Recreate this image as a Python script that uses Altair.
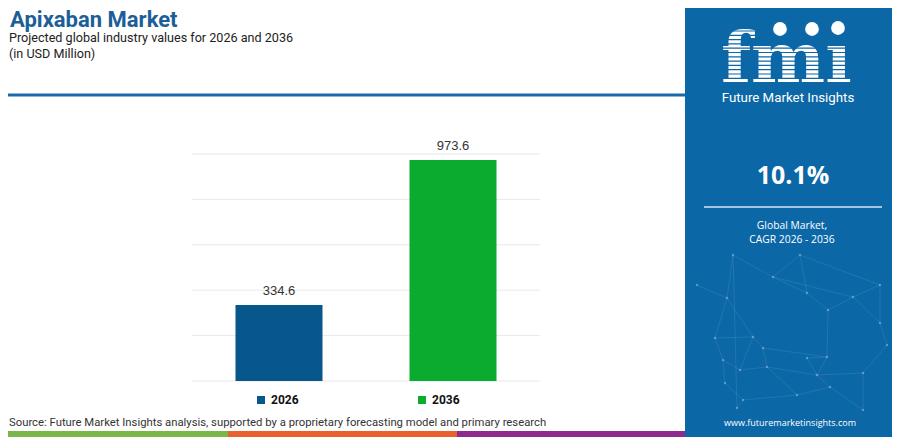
import altair as alt
import pandas as pd

# ---- data ----
years = ["2026", "2036"]
values = [334.6, 973.6]
grid_values = [0, 200, 400, 600, 800, 1000]
bar_colors = ["#07568c", "#0aab2e"]

title_text = "Apixaban Market"
subtitle_text = "Projected global industry values for 2026 and 2036"
unit_text = "(in USD Million)"
source_text = "Source: Future Market Insights analysis, supported by a proprietary forecasting model and primary research"
brand_text = "Future Market Insights"
cagr_value = "10.1%"
cagr_label_1 = "Global Market,"
cagr_label_2 = "CAGR 2026 - 2036"
url_text = "www.futuremarketinsights.com"

# ---- layout helpers (page coordinates -> chart coordinates) ----
O = 8
def P(v):
    return v - O

W, H = 884, 429
PANEL = "#0c67a7"
one = alt.Data(values=[{"a": 1}])

def txt(t, x, y, **kw):
    return alt.Chart(one).mark_text(text=t, baseline="alphabetic", **kw).encode(
        x=alt.value(P(x)), y=alt.value(P(y)))

def rect(x, x2, y, y2, color, **kw):
    return alt.Chart(one).mark_rect(color=color, **kw).encode(
        x=alt.value(P(x)), x2=alt.value(P(x2)), y=alt.value(P(y)), y2=alt.value(P(y2)))

def seg(x, y, x2, y2, color, width=1, opacity=1.0):
    return alt.Chart(one).mark_rule(color=color, strokeWidth=width, opacity=opacity).encode(
        x=alt.value(P(x)), y=alt.value(P(y)), x2=alt.value(P(x2)), y2=alt.value(P(y2)))

# ---- chart scales ----
bars_df = pd.DataFrame({"year": years, "value": values})
grid_df = pd.DataFrame({"v": grid_values})

xs = alt.Scale(domain=years, range=[P(192), P(540)], paddingInner=0.5, paddingOuter=0.25)
ys = alt.Scale(domain=[0, 1000], range=[P(381), P(154)])

grid = alt.Chart(grid_df).mark_rule(color="#e8e8e8", strokeWidth=1).encode(
    y=alt.Y("v:Q", scale=ys, axis=None),
    x=alt.value(P(192)), x2=alt.value(P(540)))

bars = alt.Chart(bars_df).mark_bar().encode(
    x=alt.X("year:N", scale=xs, axis=None),
    y=alt.Y("value:Q", scale=ys, axis=None),
    color=alt.Color("year:N", scale=alt.Scale(domain=years, range=bar_colors),
                    legend=alt.Legend(title=None, orient="none", legendX=P(255), legendY=P(394),
                                      direction="horizontal", symbolType="square", symbolSize=64,
                                      symbolStrokeWidth=0, labelFontSize=12, labelFontWeight="bold",
                                      labelColor="#111111", labelFont="Roboto", columnPadding=117,
                                      padding=0, offset=0, labelOffset=4)))

labels = alt.Chart(bars_df).mark_text(baseline="bottom", dy=-7, fontSize=13,
                                      font="Liberation Sans", color="#333333").encode(
    x=alt.X("year:N", scale=xs, axis=None),
    y=alt.Y("value:Q", scale=ys, axis=None),
    text=alt.Text("value:Q", format=".1f"))

layers = []
# header
layers.append(txt(title_text, 10, 27, align="left", font="Roboto", fontSize=22,
                  fontWeight="bold", color="#1b5e98"))
layers.append(txt(subtitle_text, 9, 42, align="left", font="Roboto", fontSize=12.6, color="#222222"))
layers.append(txt(unit_text, 9, 58, align="left", font="Roboto", fontSize=12.6, color="#222222"))
layers.append(rect(8, 685, 93.5, 96.5, "#1a6aab"))

# bottom stripes
layers.append(rect(8, 228, 431, 437, "#7ab648"))
layers.append(rect(228, 457, 431, 437, "#e8612c"))
layers.append(rect(457, 685, 431, 437, "#8e2a8f"))
layers.append(txt(source_text, 9, 426, align="left", font="Roboto", fontSize=11.3, color="#333333"))

# right panel
layers.append(rect(685, 892, 8, 437, PANEL))

# network decoration
nodes = {
    "a": (733, 255), "b": (800, 255), "c": (773, 277), "d": (880, 285), "e": (727, 298),
    "f": (807, 293), "g": (853, 297), "h": (828, 310), "i": (715, 338), "j": (753, 337),
    "k": (763, 348), "l": (827, 357), "m": (723, 360), "n": (740, 370), "o": (807, 358),
    "p": (767, 367), "q": (817, 375), "r": (863, 373), "s": (887, 345), "t": (725, 383),
    "u": (743, 400), "v": (797, 395), "w": (830, 387), "x": (863, 410), "y": (737, 408),
    "z": (880, 323), "A": (697, 285),
}
edges = ["ac", "ae", "bc", "bf", "bd", "cf", "cg", "dg", "dz", "ei", "ej", "eA", "fh", "gh",
         "hl", "ij", "im", "jk", "kp", "kl", "lo", "lq", "mn", "mt", "np", "oq", "pq", "qr",
         "rs", "sz", "rx", "tu", "uy", "uv", "vw", "wq", "wx", "vp", "ay", "gz", "jn"]
for e in edges:
    (x1, y1), (x2, y2) = nodes[e[0]], nodes[e[1]]
    layers.append(seg(x1, y1, x2, y2, "#ffffff", 0.7, 0.13))
for k, (nx, ny) in nodes.items():
    layers.append(alt.Chart(one).mark_point(filled=True, shape="circle", size=6, color="#ffffff",
                                            opacity=0.3).encode(x=alt.value(P(nx)), y=alt.value(P(ny))))

# logo
layers.append(txt("fmı", 721, 82, align="left", font="DejaVu Serif", fontSize=70,
                  fontWeight="bold", color="#ffffff"))
sy = 31.0
while sy < 84:
    layers.append(seg(712, sy, 865, sy, PANEL, 1.2))
    sy += 4.3
for cx, cy in [(780, 29), (812, 29), (838, 28)]:
    layers.append(alt.Chart(one).mark_point(filled=True, shape="circle", size=190, color="#ffffff",
                                            opacity=1).encode(x=alt.value(P(cx)), y=alt.value(P(cy))))
layers.append(txt(brand_text, 788, 102, align="center", font="'Liberation Sans Narrow', Roboto",
                  fontSize=13.3, color="#ffffff"))
layers.append(txt(cagr_value, 793, 184, align="center", font="Open Sans", fontSize=25,
                  fontWeight="bold", color="#ffffff"))
layers.append(seg(704, 207, 882, 207, "#d6e6f2", 1.5))
layers.append(txt(cagr_label_1, 792, 229, align="center", font="Open Sans", fontSize=10.3, color="#ffffff"))
layers.append(txt(cagr_label_2, 792, 243, align="center", font="Open Sans", fontSize=10.3, color="#ffffff"))
layers.append(txt(url_text, 790, 426, align="center", font="Open Sans", fontSize=9, color="#ffffff"))

chart = alt.layer(grid, bars, labels, *layers).properties(
    width=W, height=H, padding=0, autosize=alt.AutoSizeParams(type="none"), background="#ffffff"
).configure_view(stroke=None)

chart.save("out.html", embed_options={"renderer": "svg", "actions": False})
